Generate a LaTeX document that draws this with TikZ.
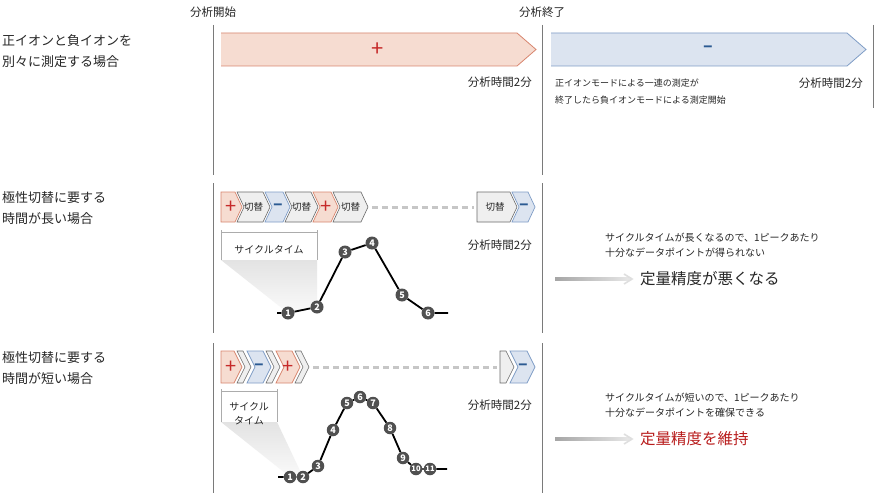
\documentclass[tikz,border=0pt]{standalone}
\usepackage{fontspec}
\setmainfont{Noto Sans CJK JP}
\usetikzlibrary{calc}
\definecolor{pospink}{HTML}{F6DCD1}
\definecolor{posline}{HTML}{D8866F}
\definecolor{posmark}{HTML}{C62A2A}
\definecolor{negblue}{HTML}{DCE4F0}
\definecolor{negline}{HTML}{7F9DC6}
\definecolor{negmark}{HTML}{2B5A92}
\definecolor{swgray}{HTML}{EFEFEF}
\definecolor{swline}{HTML}{6A6A6A}
\definecolor{rulegray}{HTML}{7A7A7A}
\definecolor{ptgray}{HTML}{505050}
\definecolor{keepred}{HTML}{B81C1C}
\definecolor{inkgray}{HTML}{262626}

\begin{document}
\begin{tikzpicture}[x=1pt,y=-1pt]
\tikzset{
  sidelabel/.style={anchor=west,align=left,inner sep=0pt,text=inkgray,font=\fontsize{13}{21}\selectfont},
  marklabel/.style={inner sep=0pt,text=inkgray,font=\fontsize{11.5}{12}\selectfont},
  timelabel/.style={anchor=east,inner sep=0pt,text=inkgray,font=\fontsize{11.5}{12}\selectfont},
  notetext/.style={anchor=west,align=left,inner sep=0pt,text=inkgray},
  rulerline/.style={draw=rulegray,line width=0.9pt},
  chevpos/.style={fill=pospink,draw=posline,line width=0.7pt},
  chevneg/.style={fill=negblue,draw=negline,line width=0.7pt},
  chevsw/.style={fill=swgray,draw=swline,line width=0.6pt},
  possign/.style={inner sep=0pt,text=posmark,font=\fontsize{20}{20}\selectfont},
  negsign/.style={inner sep=0pt,text=negmark,font=\bfseries\fontsize{15}{15}\selectfont},
  swtext/.style={inner sep=0pt,text=inkgray,font=\fontsize{9.5}{10}\selectfont},
  gapline/.style={draw=gray!45,line width=3pt,dash pattern=on 6pt off 4pt},
  datapt/.style={circle,fill=ptgray,text=white,inner sep=0pt,minimum size=13pt,font=\bfseries\fontsize{9}{9}\selectfont},
  curveline/.style={draw=black,line width=1.8pt,line join=round},
  bracketline/.style={draw=gray!65,line width=0.8pt},
  resultarrow/.style={draw=gray!25,line width=1.6pt}
}
\fill[white] (0,0) rectangle (882,500);
\useasboundingbox (0,0) rectangle (882,500);

% rulers
\draw[rulerline] (213,25) -- (213,175);
\draw[rulerline] (542,25) -- (542,175);
\draw[rulerline] (873,25) -- (873,108);
\draw[rulerline] (213,183) -- (213,333);
\draw[rulerline] (542,183) -- (542,333);
\draw[rulerline] (213,343) -- (213,493);
\draw[rulerline] (542,343) -- (542,493);
\node[marklabel] (t_start) at (213,12) {分析開始};
\node[marklabel] (t_end) at (542,12) {分析終了};

% row 1
\node[sidelabel] (lab_sep) at (2,51.5) {正イオンと負イオンを\\別々に測定する場合};
\fill[pospink] (221,33) -- (517,33) -- (536,49.5) -- (517,66) -- (221,66) -- cycle;
\draw[posline,line width=0.8pt] (221,33) -- (517,33) -- (536,49.5) -- (517,66) -- (221,66);
\fill[negblue] (551,33) -- (847,33) -- (866,49.5) -- (847,66) -- (551,66) -- cycle;
\draw[negline,line width=0.8pt] (551,33) -- (847,33) -- (866,49.5) -- (847,66) -- (551,66);
\node[possign,font=\fontsize{22}{22}\selectfont] (s_pos) at (378,49.5) {+};
\node[negsign] (s_neg) at (708,49.5) {−};
\node[timelabel] (d_1a) at (532,82) {分析時間2分};
\node[timelabel] (d_1b) at (863,83) {分析時間2分};
\node[notetext,font=\fontsize{9}{17}\selectfont] (n_1) at (555,91.5) {正イオンモードによる一連の測定が\\終了したら負イオンモードによる測定開始};

% row 2
\node[sidelabel] (lab_long) at (2,208.5) {極性切替に要する\\時間が長い場合};
\draw[chevpos] (221,192) -- (235,192) -- (242,207) -- (235,222) -- (221,222) -- cycle;
\draw[chevsw] (237,192) -- (263,192) -- (270,207) -- (263,222) -- (237,222) -- (244,207) -- cycle;
\draw[chevneg] (265,192) -- (283,192) -- (290,207) -- (283,222) -- (265,222) -- (272,207) -- cycle;
\draw[chevsw] (285,192) -- (311,192) -- (318,207) -- (311,222) -- (285,222) -- (292,207) -- cycle;
\draw[chevpos] (313,192) -- (331,192) -- (338,207) -- (331,222) -- (313,222) -- (320,207) -- cycle;
\draw[chevsw] (333,192) -- (361,192) -- (368,207) -- (361,222) -- (333,222) -- (340,207) -- cycle;
\draw[chevsw] (477,192) -- (510,192) -- (517,207) -- (510,222) -- (477,222) -- cycle;
\draw[chevneg] (512,192) -- (528,192) -- (535,207) -- (528,222) -- (512,222) -- (519,207) -- cycle;
\node[possign] (l_p1) at (231,207) {+};
\node[swtext] (l_s1) at (253.5,207) {切替};
\node[negsign] (l_n1) at (278,207) {−};
\node[swtext] (l_s2) at (301.5,207) {切替};
\node[possign] (l_p2) at (326,207) {+};
\node[swtext] (l_s3) at (350.5,207) {切替};
\node[swtext] (l_s4) at (495,207) {切替};
\node[negsign] (l_n2) at (524,207) {−};
\coordinate (gap_l0) at (372,207);
\coordinate (gap_l1) at (474,207);
\draw[gapline] (gap_l0) -- (gap_l1);
\node[timelabel] (d_2) at (532,245) {分析時間2分};
% cycle time (long)
\shade[top color=gray!22,bottom color=gray!4] (221,260) -- (317,260) -- (317,307) -- (288,313) -- cycle;
\draw[bracketline] (221,230) -- (221,260);
\draw[bracketline] (317,230) -- (317,260);
\draw[bracketline] (221,232) -- (317,232);
\node[swtext,font=\fontsize{10}{10}\selectfont] (cyc_l) at (269,250) {サイクルタイム};
\coordinate (a0) at (277,313);
\node[datapt] (a1) at (288,313) {1};
\node[datapt] (a2) at (317,307) {2};
\node[datapt] (a3) at (345,252) {3};
\node[datapt] (a4) at (372,243) {4};
\node[datapt] (a5) at (402,295) {5};
\node[datapt] (a6) at (428,313) {6};
\coordinate (a7) at (448,313);
\draw[curveline] (a0) -- (a1) -- (a2) -- (a3) -- (a4) -- (a5) -- (a6) -- (a7);
\node[notetext,font=\fontsize{10}{15}\selectfont] (n_2) at (605,245.5) {サイクルタイムが長くなるので、1ピークあたり\\十分なデータポイントが得られない};
\node[notetext,font=\fontsize{15.5}{16}\selectfont] (r_2) at (640,279) {定量精度が悪くなる};
\coordinate (r_2from) at (555,279);
\coordinate (r_2tip) at ([xshift=-8pt]r_2.west);
\shade[left color=gray!70,right color=gray!18] ([yshift=-1.4pt]r_2from) rectangle ([yshift=1.4pt,xshift=-1pt]r_2tip);
\draw[resultarrow] ([shift={(-8,-5)}]r_2tip) -- (r_2tip) -- ([shift={(-8,5)}]r_2tip);

% row 3
\node[sidelabel] (lab_short) at (2,368.5) {極性切替に要する\\時間が短い場合};
\draw[chevpos] (221,351) -- (234,351) -- (242,367) -- (234,383) -- (221,383) -- cycle;
\draw[chevsw] (237,351) -- (243,351) -- (251,367) -- (243,383) -- (237,383) -- (245,367) -- cycle;
\draw[chevneg] (247,351) -- (263,351) -- (271,367) -- (263,383) -- (247,383) -- (255,367) -- cycle;
\draw[chevsw] (266,351) -- (272,351) -- (280,367) -- (272,383) -- (266,383) -- (274,367) -- cycle;
\draw[chevpos] (276,351) -- (292,351) -- (300,367) -- (292,383) -- (276,383) -- (284,367) -- cycle;
\draw[chevsw] (295,351) -- (301,351) -- (309,367) -- (301,383) -- (295,383) -- (303,367) -- cycle;
\draw[chevsw] (500,351) -- (506,351) -- (514,367) -- (506,383) -- (500,383) -- cycle;
\draw[chevneg] (510,351) -- (527,351) -- (535,367) -- (527,383) -- (510,383) -- (518,367) -- cycle;
\node[possign] (m_p1) at (231,367) {+};
\node[negsign] (m_n1) at (259,367) {−};
\node[possign] (m_p2) at (288,367) {+};
\node[negsign] (m_n2) at (523,367) {−};
\coordinate (gap_m0) at (313,367);
\coordinate (gap_m1) at (497,367);
\draw[gapline] (gap_m0) -- (gap_m1);
\node[timelabel] (d_3) at (532,405) {分析時間2分};
% cycle time (short)
\shade[top color=gray!22,bottom color=gray!4] (221,422) -- (277,422) -- (303,477) -- (290,477) -- cycle;
\draw[bracketline] (221,389) -- (221,422);
\draw[bracketline] (277,389) -- (277,422);
\draw[bracketline] (221,391) -- (277,391);
\node[swtext,align=center,font=\fontsize{10}{13.5}\selectfont] (cyc_s) at (249,413.5) {サイクル\\タイム};
\coordinate (b0) at (278,477);
\node[datapt,minimum size=12.5pt] (b1) at (290,477) {1};
\node[datapt,minimum size=12.5pt] (b2) at (303,477) {2};
\node[datapt,minimum size=12.5pt] (b3) at (318,466) {3};
\node[datapt,minimum size=12.5pt] (b4) at (333,430) {4};
\node[datapt,minimum size=12.5pt] (b5) at (347,403) {5};
\node[datapt,minimum size=12.5pt] (b6) at (360,397) {6};
\node[datapt,minimum size=12.5pt] (b7) at (373,403) {7};
\node[datapt,minimum size=12.5pt] (b8) at (390,428) {8};
\node[datapt,minimum size=12.5pt] (b9) at (403,458) {9};
\node[datapt,minimum size=12.5pt,font=\bfseries\fontsize{7.5}{8}\selectfont] (b10) at (416,469) {10};
\node[datapt,minimum size=12.5pt,font=\bfseries\fontsize{7.5}{8}\selectfont] (b11) at (430,469) {11};
\coordinate (b12) at (447,469);
\draw[curveline] (b0) -- (b1) -- (b2) -- (b3) -- (b4) -- (b5) -- (b6) -- (b7) -- (b8) -- (b9) -- (b10) -- (b11) -- (b12);
\node[notetext,font=\fontsize{10}{15}\selectfont] (n_3) at (605,405.5) {サイクルタイムが短いので、1ピークあたり\\十分なデータポイントを確保できる};
\node[notetext,text=keepred,font=\fontsize{15.5}{16}\selectfont] (r_3) at (640,439) {定量精度を維持};
\coordinate (r_3from) at (555,439);
\coordinate (r_3tip) at ([xshift=-8pt]r_3.west);
\shade[left color=gray!70,right color=gray!18] ([yshift=-1.4pt]r_3from) rectangle ([yshift=1.4pt,xshift=-1pt]r_3tip);
\draw[resultarrow] ([shift={(-8,-5)}]r_3tip) -- (r_3tip) -- ([shift={(-8,5)}]r_3tip);
\end{tikzpicture}
\end{document}
